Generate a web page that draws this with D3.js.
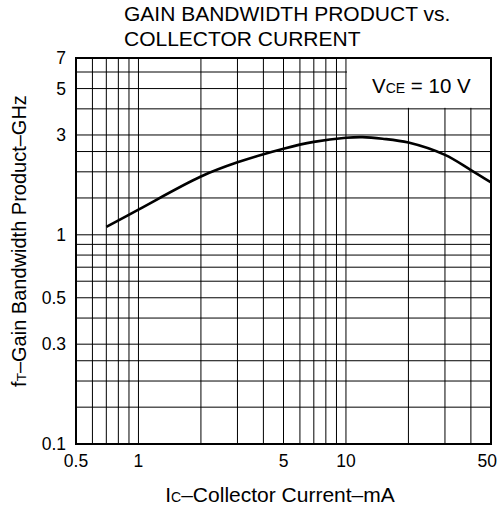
<!DOCTYPE html>
<html>
<head>
<meta charset="utf-8">
<script src="https://cdn.jsdelivr.net/npm/d3@7"></script>
<style>
    body { margin: 0; background: #fff; }
    svg { display: block; font-family: "Liberation Sans", Arial, Helvetica, sans-serif; }
</style>
</head>
<body>
<script>
(function(){

    //collector current (mA) and gain bandwidth product (GHz)
    var icValues = [0.7, 1, 2, 3, 5, 7, 10, 12, 15, 20, 30, 40, 50];
    var ftValues = [1.09, 1.32, 1.9, 2.22, 2.58, 2.78, 2.91, 2.93, 2.88, 2.76, 2.41, 2.04, 1.78];

    //grid lines and labelled ticks
    var xGrid = [0.6, 0.7, 0.8, 0.9, 1, 2, 3, 4, 5, 6, 7, 8, 9, 10, 20, 30, 40];
    var yGrid = [0.15, 0.2, 0.25, 0.3, 0.4, 0.5, 0.6, 0.7, 0.8, 0.9, 1, 1.5, 2, 2.5, 3, 4, 5, 6];
    var xTicks = [0.5, 1, 5, 10, 50];
    var yTicks = [0.1, 0.3, 0.5, 1, 3, 5, 7];

    var titleLines = ["GAIN BANDWIDTH PRODUCT vs.", "COLLECTOR CURRENT"];

    window.onload = setChart();

    function setChart(){
        var width = 500,
            height = 511;

        var svg = d3.select("body")
            .append("svg")
            .attr("width", width)
            .attr("height", height);

        //log scales for both axes
        var x = d3.scaleLog()
            .domain([0.5, 50])
            .range([76, 491]);

        var y = d3.scaleLog()
            .domain([0.1, 7])
            .range([444, 58]);

        //vertical grid
        svg.selectAll(".vgrid")
            .data(xGrid)
            .enter()
            .append("line")
            .attr("class", "vgrid")
            .attr("x1", function(d){ return x(d); })
            .attr("x2", function(d){ return x(d); })
            .attr("y1", y(0.1))
            .attr("y2", y(7))
            .style("stroke", "#000")
            .style("stroke-width", 1);

        //horizontal grid
        svg.selectAll(".hgrid")
            .data(yGrid)
            .enter()
            .append("line")
            .attr("class", "hgrid")
            .attr("x1", x(0.5))
            .attr("x2", x(50))
            .attr("y1", function(d){ return y(d); })
            .attr("y2", function(d){ return y(d); })
            .style("stroke", "#000")
            .style("stroke-width", 1);

        //white box behind the condition label
        svg.append("rect")
            .attr("x", x(10) + 1)
            .attr("y", y(7))
            .attr("width", x(50) - x(10) - 1)
            .attr("height", y(4) - y(7) - 1)
            .style("fill", "#fff");

        //frame
        svg.append("rect")
            .attr("x", x(0.5))
            .attr("y", y(7))
            .attr("width", x(50) - x(0.5))
            .attr("height", y(0.1) - y(7))
            .style("fill", "none")
            .style("stroke", "#000")
            .style("stroke-width", 2);

        //curve
        var line = d3.line()
            .x(function(d){ return x(d[0]); })
            .y(function(d){ return y(d[1]); })
            .curve(d3.curveCatmullRom.alpha(0.5));

        svg.append("path")
            .datum(d3.zip(icValues, ftValues))
            .attr("d", line)
            .style("fill", "none")
            .style("stroke", "#000")
            .style("stroke-width", 2.6)
            .style("stroke-linejoin", "round");

        //y tick labels
        svg.selectAll(".ylab")
            .data(yTicks)
            .enter()
            .append("text")
            .attr("class", "ylab")
            .attr("x", x(0.5) - 10)
            .attr("y", function(d){ return y(d); })
            .attr("dy", "0.36em")
            .attr("text-anchor", "end")
            .style("font-size", "17.5px")
            .text(function(d){ return d; });

        //x tick labels, last one kept inside the picture
        svg.selectAll(".xlab")
            .data(xTicks)
            .enter()
            .append("text")
            .attr("class", "xlab")
            .attr("x", function(d){ return d === 50 ? width - 3 : x(d); })
            .attr("y", y(0.1) + 23)
            .attr("text-anchor", function(d){ return d === 50 ? "end" : "middle"; })
            .style("font-size", "17.5px")
            .text(function(d){ return d; });

        //title
        svg.selectAll(".title")
            .data(titleLines)
            .enter()
            .append("text")
            .attr("class", "title")
            .attr("x", 124)
            .attr("y", function(d, i){ return 21 + i * 24.5; })
            .style("font-size", "21px")
            .text(function(d){ return d; });

        //x axis title
        var xTitle = svg.append("text")
            .attr("x", 280)
            .attr("y", 502)
            .attr("text-anchor", "middle")
            .style("font-size", "21px");
        xTitle.append("tspan").text("I");
        xTitle.append("tspan").style("font-size", "14px").text("C");
        xTitle.append("tspan").text("\u2013Collector Current\u2013mA");

        //y axis title
        var yTitle = svg.append("text")
            .attr("transform", "translate(26," + 241 + ") rotate(-90)")
            .attr("text-anchor", "middle")
            .style("font-size", "20px");
        yTitle.append("tspan").text("f");
        yTitle.append("tspan").style("font-size", "13.5px").text("T");
        yTitle.append("tspan").text("\u2013Gain Bandwidth Product\u2013GHz");

        //condition label
        var cond = svg.append("text")
            .attr("x", 372)
            .attr("y", 93)
            .style("font-size", "20.5px");
        cond.append("tspan").text("V");
        cond.append("tspan").style("font-size", "14px").text("CE");
        cond.append("tspan").text(" = 10 V");
    };

})();
</script>
</body>
</html>
